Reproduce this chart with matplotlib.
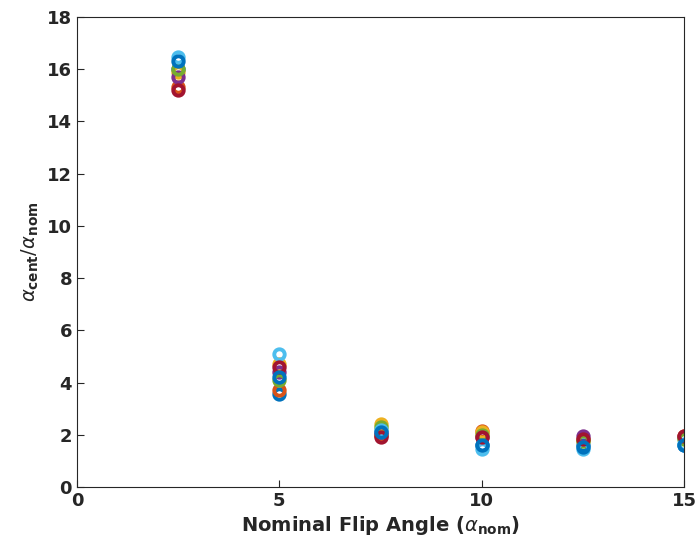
import numpy as np
import matplotlib
matplotlib.use("Agg")
import matplotlib.pyplot as plt

# nominal flip angles
flip_nom = [2.5, 5, 7.5, 10, 12.5, 15]

# alpha_cent / alpha_nom, one list per series (MATLAB default colour order)
s1 = [16.0, 3.55, 2.00, 1.60, 1.60, 1.60]
s2 = [15.3, 3.70, 2.00, 2.15, 1.80, 1.95]
s3 = [15.9, 4.70, 2.40, 2.10, 1.80, 1.90]
s4 = [15.7, 4.40, 2.10, 1.90, 1.95, 1.90]
s5 = [16.0, 4.10, 2.30, 2.00, 1.75, 1.85]
s6 = [16.45, 5.10, 2.20, 1.45, 1.45, 1.65]
s7 = [15.2, 4.60, 1.90, 1.90, 1.85, 1.95]
s8 = [16.3, 4.20, 2.10, 1.60, 1.55, 1.60]
series = [s1, s2, s3, s4, s5, s6, s7, s8]

colors = [(0, 0.447, 0.741), (0.85, 0.325, 0.098), (0.929, 0.694, 0.125),
          (0.494, 0.184, 0.556), (0.466, 0.674, 0.188), (0.301, 0.745, 0.933),
          (0.635, 0.078, 0.184), (0, 0.447, 0.741)]

plt.rcParams['font.family'] = 'DejaVu Sans'
plt.rcParams['mathtext.fontset'] = 'custom'
plt.rcParams['mathtext.rm'] = 'DejaVu Sans'
plt.rcParams['mathtext.it'] = 'DejaVu Sans:italic:normal'
plt.rcParams['mathtext.bf'] = 'DejaVu Sans:bold'

fig = plt.figure(figsize=(6.96, 5.48), dpi=100)
ax = fig.add_axes([0.1106, 0.1113, 0.8722, 0.8577])

for vals, c in zip(series, colors):
    ax.plot(flip_nom, vals, linestyle='none', marker='o', markersize=7.5,
            markerfacecolor='none', markeredgecolor=c, markeredgewidth=2.8)

ax.set_xlim(0, 15)
ax.set_ylim(0, 18)
ax.set_xticks([0, 5, 10, 15])
ax.set_yticks(np.arange(0, 19, 2))
ax.tick_params(direction='in', length=5, width=0.8, labelsize=13,
               colors='#262626', top=False, right=False)
for lab in ax.get_xticklabels() + ax.get_yticklabels():
    lab.set_fontweight('bold')
for sp in ax.spines.values():
    sp.set_linewidth(0.8)
    sp.set_color('#262626')

ax.set_xlabel(r'Nominal Flip Angle ($\alpha_{\mathbf{nom}}$)', fontsize=14,
              fontweight='bold', color='#262626', labelpad=3)
ax.set_ylabel(r'$\alpha_{\mathbf{cent}}/\alpha_{\mathbf{nom}}$', fontsize=14,
              fontweight='bold', color='#262626', labelpad=4)

fig.savefig('out.png', dpi=100)
